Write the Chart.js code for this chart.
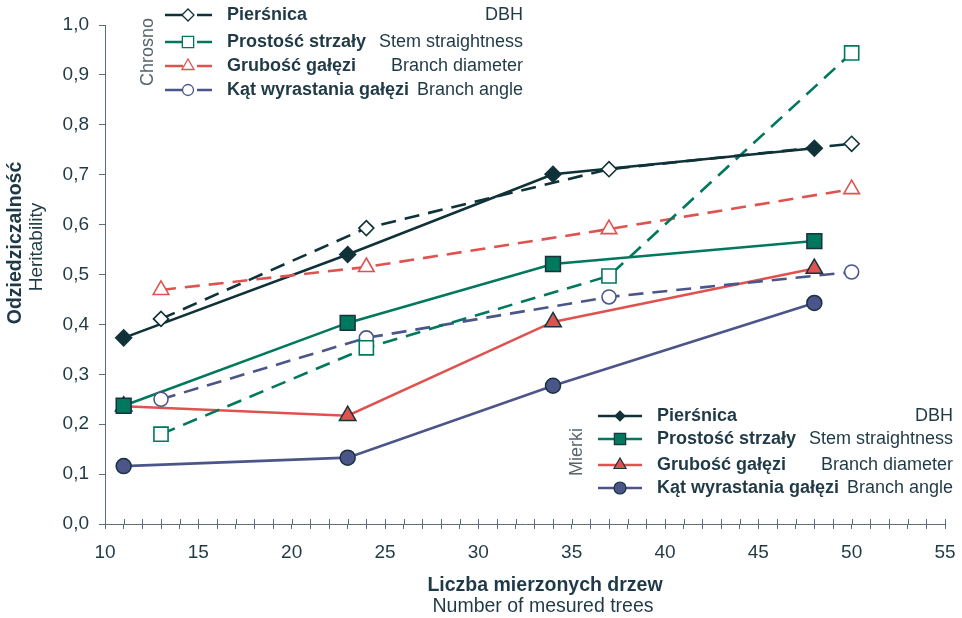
<!DOCTYPE html>
<html>
<head>
<meta charset="utf-8">
<script src="https://cdn.jsdelivr.net/npm/chart.js@4"></script>
<style>
  html, body { margin: 0; padding: 0; background: #fff; }
  #wrap { width: 962px; height: 618px; position: relative; }
</style>
</head>
<body>
<div id="wrap"><canvas id="heritability"></canvas></div>
<script>
const seriesPl = ["Pierśnica", "Prostość strzały", "Grubość gałęzi", "Kąt wyrastania gałęzi"];
const seriesEn = ["DBH", "Stem straightness", "Branch diameter", "Branch angle"];

// number of measured trees
const mierkiTrees = [11, 23, 34, 48];
const chrosnoTrees = [13, 24, 37, 50];

// heritability, Mierki (solid lines)
const mierkiPiersnica = [0.373, 0.540, 0.701, 0.753];
const mierkiProstosc = [0.237, 0.403, 0.521, 0.567];
const mierkiGrubosc = [0.236, 0.217, 0.405, 0.512];
const mierkiKat = [0.116, 0.133, 0.277, 0.443];

// heritability, Chrosno (dashed lines)
const chrosnoPiersnica = [0.411, 0.593, 0.711, 0.762];
const chrosnoProstosc = [0.180, 0.353, 0.497, 0.944];
const chrosnoGrubosc = [0.469, 0.515, 0.591, 0.671];
const chrosnoKat = [0.250, 0.373, 0.455, 0.505];

const xTickMin = 10, xTickMax = 55, xTickStep = 1, xLabelEvery = 5;
const yTickMin = 0, yTickMax = 1, yTickStep = 0.1;

const colors = ["#0f3239", "#00785e", "#e0524f", "#4c5589"];
const markers = ["rectRot", "rect", "triangle", "circle"];
const radii = [8, 10.5, 9.5, 7.5];
const outline = "#17333d";
const axisColor = "#5d6d7a";
const textColor = "#1f3a46";
const sans = "'Liberation Sans', Arial, sans-serif";

const pts = (xs, ys) => xs.map((x, i) => ({ x: x, y: ys[i] }));

const mierki = [mierkiPiersnica, mierkiProstosc, mierkiGrubosc, mierkiKat];
const chrosno = [chrosnoPiersnica, chrosnoProstosc, chrosnoGrubosc, chrosnoKat];

const datasets = [];
chrosno.forEach((ys, i) => {
  datasets.push({
    label: "Chrosno " + seriesPl[i],
    data: pts(chrosnoTrees, ys),
    borderColor: colors[i],
    borderWidth: 2.6,
    borderDash: [15, 9],
    pointStyle: markers[i],
    pointRadius: radii[i] - 0.5,
    pointBackgroundColor: "#ffffff",
    pointBorderColor: colors[i],
    pointBorderWidth: 1.6,
    tension: 0,
  });
});
mierki.forEach((ys, i) => {
  datasets.push({
    label: "Mierki " + seriesPl[i],
    data: pts(mierkiTrees, ys),
    borderColor: colors[i],
    borderWidth: 2.6,
    pointStyle: markers[i],
    pointRadius: radii[i],
    pointBackgroundColor: colors[i],
    pointBorderColor: outline,
    pointBorderWidth: 1.5,
    tension: 0,
  });
});

function marker(ctx, style, x, y, r, fill, stroke, lw) {
  ctx.save();
  ctx.beginPath();
  if (style === "circle") {
    ctx.arc(x, y, r, 0, Math.PI * 2);
  } else if (style === "rect") {
    const s = r * Math.SQRT1_2;
    ctx.rect(x - s, y - s, 2 * s, 2 * s);
  } else if (style === "rectRot") {
    ctx.moveTo(x - r, y); ctx.lineTo(x, y - r); ctx.lineTo(x + r, y); ctx.lineTo(x, y + r);
    ctx.closePath();
  } else {
    for (let k = 0; k < 3; k++) {
      const a = k * 2 * Math.PI / 3;
      const px = x + Math.sin(a) * r, py = y - Math.cos(a) * r;
      if (k) ctx.lineTo(px, py); else ctx.moveTo(px, py);
    }
    ctx.closePath();
  }
  ctx.fillStyle = fill;
  ctx.fill();
  ctx.lineWidth = lw;
  ctx.strokeStyle = stroke;
  ctx.stroke();
  ctx.restore();
}

function vtext(ctx, txt, x, y, font, color) {
  ctx.save();
  ctx.translate(x, y);
  ctx.rotate(-Math.PI / 2);
  ctx.font = font;
  ctx.fillStyle = color;
  ctx.textAlign = "center";
  ctx.textBaseline = "middle";
  ctx.fillText(txt, 0, 0);
  ctx.restore();
}

function legendGroup(ctx, g) {
  vtext(ctx, g.name, g.nameX, g.nameY, "18px " + sans, "#56646e");
  g.rows.forEach((y, i) => {
    ctx.save();
    ctx.strokeStyle = colors[i];
    ctx.lineWidth = 2.6;
    ctx.beginPath();
    if (g.dashed) {
      ctx.moveTo(g.x0, y); ctx.lineTo(g.mx - 5, y);
      ctx.moveTo(g.mx + 9, y); ctx.lineTo(g.x1, y);
    } else {
      ctx.moveTo(g.x0, y); ctx.lineTo(g.x1, y);
    }
    ctx.stroke();
    ctx.restore();
    if (g.dashed) marker(ctx, markers[i], g.mx, y, g.r[i], "#ffffff", colors[i], 1.3);
    else marker(ctx, markers[i], g.mx, y, g.r[i], colors[i], outline, 1.2);
    ctx.save();
    ctx.fillStyle = textColor;
    ctx.textBaseline = "middle";
    ctx.font = "bold 18px " + sans;
    ctx.textAlign = "left";
    ctx.fillText(seriesPl[i], g.tx, y);
    ctx.font = "18px " + sans;
    ctx.textAlign = "right";
    ctx.fillText(seriesEn[i], g.rx, y);
    ctx.restore();
  });
}

const decor = {
  id: "decor",
  afterDraw(chart) {
    const ctx = chart.ctx;
    const area = chart.chartArea;
    const xs = chart.scales.x;
    // x ticks also reach into the plot
    ctx.save();
    ctx.strokeStyle = axisColor;
    ctx.lineWidth = 1;
    ctx.beginPath();
    xs.ticks.forEach((t) => {
      const px = Math.round(xs.getPixelForValue(t.value)) + 0.5;
      ctx.moveTo(px, area.bottom - 5);
      ctx.lineTo(px, area.bottom);
    });
    ctx.stroke();
    ctx.restore();

    // axis titles
    ctx.save();
    ctx.fillStyle = textColor;
    ctx.textAlign = "center";
    ctx.textBaseline = "middle";
    ctx.font = "bold 19.5px " + sans;
    ctx.fillText("Liczba mierzonych drzew", 545, 586);
    ctx.font = "19.5px " + sans;
    ctx.fillText("Number of mesured trees", 543, 607);
    ctx.restore();
    vtext(ctx, "Odziedziczalność", 16, 243, "bold 19.5px " + sans, textColor);
    vtext(ctx, "Heritability", 37, 247, "19px " + sans, textColor);

    legendGroup(ctx, {
      name: "Chrosno", nameX: 148, nameY: 52, dashed: true,
      x0: 165, x1: 212, mx: 188, tx: 227, rx: 523,
      rows: [15, 42, 66, 90], r: [6, 8, 7, 5.5],
    });
    legendGroup(ctx, {
      name: "Mierki", nameX: 577, nameY: 452, dashed: false,
      x0: 598, x1: 642, mx: 620, tx: 657, rx: 953,
      rows: [416, 439, 465, 488], r: [5, 8, 7, 6],
    });
  },
};

new Chart(document.getElementById("heritability"), {
  type: "line",
  data: { datasets: datasets },
  plugins: [decor],
  options: {
    responsive: true,
    maintainAspectRatio: false,
    animation: false,
    layout: { padding: { top: 25, right: 17, left: 0, bottom: 0 } },
    plugins: { legend: { display: false }, tooltip: { enabled: false } },
    scales: {
      x: {
        type: "linear",
        min: xTickMin,
        max: xTickMax,
        afterFit: (s) => { s.height = 94; s.paddingLeft = 0; s.paddingRight = 0; },
        grid: { drawOnChartArea: false, tickLength: 5, color: axisColor },
        border: { color: axisColor, width: 1 },
        ticks: {
          stepSize: xTickStep,
          autoSkip: false,
          maxRotation: 0,
          padding: 12,
          color: textColor,
          font: { family: sans, size: 19 },
          callback: (v) => (v % xLabelEvery === 0 ? String(v) : ""),
        },
      },
      y: {
        min: yTickMin,
        max: yTickMax,
        afterFit: (s) => { s.width = 105; s.paddingTop = 0; s.paddingBottom = 0; },
        grid: { drawOnChartArea: false, tickLength: 6, color: axisColor },
        border: { color: axisColor, width: 1 },
        ticks: {
          stepSize: yTickStep,
          padding: 10,
          color: textColor,
          font: { family: sans, size: 19 },
          callback: (v) => v.toFixed(1).replace(".", ","),
        },
      },
    },
  },
});
</script>
</body>
</html>
